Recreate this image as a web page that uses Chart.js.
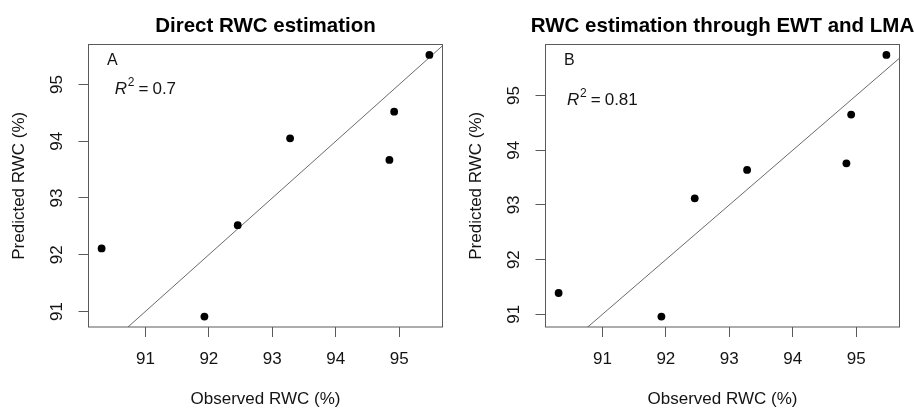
<!DOCTYPE html>
<html>
<head>
<meta charset="utf-8">
<script src="https://cdn.jsdelivr.net/npm/chart.js@4/dist/chart.umd.min.js"></script>
<style>
  html, body { margin: 0; padding: 0; background: #fff; overflow: hidden; }
  .panel { position: absolute; top: 0; }
</style>
</head>
<body>
<canvas id="panelA" class="panel" width="457" height="408" style="left:0px"></canvas>
<canvas id="panelB" class="panel" width="457" height="408" style="left:457px"></canvas>
<script>
// Observed relative water content of the seven samples (%)
const observed = [90.31, 91.93, 92.455, 93.28, 94.845, 94.92, 95.475];
// Predicted RWC, direct model (%)
const predictedDirect = [92.11, 90.91, 92.52, 94.05, 93.67, 94.52, 95.52];
// Predicted RWC, derived through EWT and LMA (%)
const predictedEwtLma = [91.39, 90.96, 93.12, 93.64, 93.76, 94.65, 95.74];

const panelTitles = ['Direct RWC estimation', 'RWC estimation through EWT and LMA'];
const panelLetters = ['A', 'B'];
const r2Values = ['0.7', '0.81'];
// Where the R² annotation is centred, in data units (x, y)
const r2Anchor = [91, 95];

const xTicks = [91, 92, 93, 94, 95];
const yTicks = [91, 92, 93, 94, 95];
// 1:1 reference line end points
const identityLine = [90, 96];

const FONT = '"Liberation Sans", Arial, Helvetica, sans-serif';
const INK = '#141414';
const FRAME = '#5a5a5a';

// Axis limits padded by 4% of the data range on each side
function paddedRange(values) {
  const lo = Math.min(...values), hi = Math.max(...values);
  const pad = (hi - lo) * 0.04;
  return [lo - pad, hi + pad];
}

// Frame, title, panel letter and R² annotation
const decorations = {
  id: 'decorations',
  afterDraw(chart, args, opts) {
    const ctx = chart.ctx;
    const a = chart.chartArea;
    const xs = chart.scales.x, ys = chart.scales.y;
    ctx.save();

    // frame round the plotting region
    ctx.strokeStyle = FRAME;
    ctx.lineWidth = 1;
    ctx.strokeRect(a.left, a.top, a.right - a.left, a.bottom - a.top);

    // main title
    ctx.fillStyle = '#000';
    ctx.textAlign = 'center';
    ctx.textBaseline = 'alphabetic';
    ctx.font = 'bold 20.5px ' + FONT;
    ctx.fillText(opts.title, (a.left + a.right) / 2, 31.7);

    // panel letter
    ctx.fillStyle = INK;
    ctx.textAlign = 'left';
    ctx.font = '16px ' + FONT;
    ctx.fillText(opts.letter, a.left + 18.5, a.top + 20);

    // R² = value, centred on the anchor point
    const fR = 'italic 17px ' + FONT;
    const fSup = '12px ' + FONT;
    const fTxt = '17px ' + FONT;
    ctx.font = fR; const wR = ctx.measureText('R').width;
    ctx.font = fSup; const wSup = ctx.measureText('2').width;
    ctx.font = fTxt;
    const wEq = ctx.measureText('=').width;
    const wVal = ctx.measureText(opts.r2).width;
    const gap = 4;
    const total = wR + 0.8 + wSup + gap + wEq + gap + wVal;
    let x = xs.getPixelForValue(r2Anchor[0]) - total / 2;
    const base = ys.getPixelForValue(r2Anchor[1]) + 9.3;
    ctx.font = fR; ctx.fillText('R', x, base); x += wR + 0.8;
    ctx.font = fSup; ctx.fillText('2', x, base - 7.4); x += wSup + gap;
    ctx.font = fTxt; ctx.fillText('=', x, base); x += wEq + gap;
    ctx.fillText(opts.r2, x, base);

    ctx.restore();
  }
};

function makePanel(canvasId, predicted, idx) {
  const [xMin, xMax] = paddedRange(observed);
  const [yMin, yMax] = paddedRange(predicted);
  const points = observed.map((v, i) => ({ x: v, y: predicted[i] }));
  const line = identityLine.map(v => ({ x: v, y: v }));

  const tickGrid = {
    display: true,
    drawOnChartArea: false,
    drawTicks: true,
    tickLength: 10,
    tickColor: FRAME,
    tickWidth: 1
  };

  return new Chart(document.getElementById(canvasId), {
    type: 'scatter',
    data: {
      datasets: [
        {
          label: 'samples',
          data: points,
          pointRadius: 3.9,
          pointHoverRadius: 3.9,
          pointBackgroundColor: '#000',
          pointBorderWidth: 0,
          borderWidth: 0,
          clip: false
        },
        {
          type: 'line',
          label: '1:1',
          data: line,
          borderColor: '#6a6a6a',
          borderWidth: 1,
          pointRadius: 0,
          fill: false,
          tension: 0,
          clip: 0
        }
      ]
    },
    options: {
      responsive: false,
      animation: false,
      devicePixelRatio: 1,
      events: [],
      layout: { padding: { top: 44.5, right: 14.5, bottom: 0, left: 0 } },
      plugins: {
        legend: { display: false },
        tooltip: { enabled: false },
        title: { display: false },
        decorations: {
          title: panelTitles[idx],
          letter: panelLetters[idx],
          r2: r2Values[idx]
        }
      },
      scales: {
        x: {
          type: 'linear',
          position: 'bottom',
          min: xMin,
          max: xMax,
          afterBuildTicks: s => { s.ticks = xTicks.map(v => ({ value: v })); },
          afterFit: s => { s.height = 81; },
          ticks: {
            autoSkip: false,
            minRotation: 0,
            maxRotation: 0,
            padding: 12,
            color: INK,
            font: { family: FONT, size: 17 },
            callback: v => String(v)
          },
          grid: tickGrid,
          border: { display: false },
          title: {
            display: true,
            text: 'Observed RWC (%)',
            color: INK,
            font: { family: FONT, size: 17, lineHeight: 1 },
            padding: { top: 0, bottom: 0 }
          }
        },
        y: {
          type: 'linear',
          position: 'left',
          min: yMin,
          max: yMax,
          afterBuildTicks: s => { s.ticks = yTicks.map(v => ({ value: v })); },
          afterFit: s => { s.width = 88.5; },
          ticks: {
            autoSkip: false,
            minRotation: 90,
            maxRotation: 90,
            crossAlign: 'center',
            padding: 11.4,
            color: INK,
            font: { family: FONT, size: 17 },
            callback: v => String(v)
          },
          grid: tickGrid,
          border: { display: false },
          title: {
            display: true,
            text: 'Predicted RWC (%)',
            color: INK,
            font: { family: FONT, size: 17, lineHeight: 1 },
            padding: { top: 10.5, bottom: 0 }
          }
        }
      }
    },
    plugins: [decorations]
  });
}

makePanel('panelA', predictedDirect, 0);
makePanel('panelB', predictedEwtLma, 1);
</script>
</body>
</html>
